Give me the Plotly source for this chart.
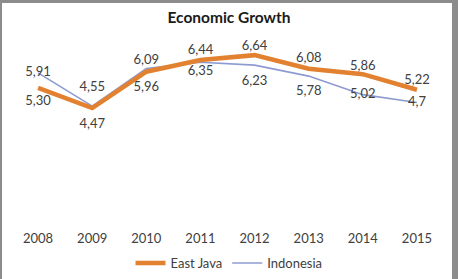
import plotly.graph_objects as go

years = ["2008", "2009", "2010", "2011", "2012", "2013", "2014", "2015"]
east_java = [5.30, 4.47, 5.96, 6.44, 6.64, 6.08, 5.86, 5.22]
indonesia = [5.91, 4.55, 6.09, 6.35, 6.23, 5.78, 5.02, 4.70]
east_java_labels = ["5,30", "4,47", "5,96", "6,44", "6,64", "6,08", "5,86", "5,22"]
indonesia_labels = ["5,91", "4,55", "6,09", "6,35", "6,23", "5,78", "5,02", "4,7"]

# label placement (style)
ej_pos = ["bottom center", "bottom center", "bottom center", "top center",
          "top center", "top center", "top center", "top center"]
id_pos = ["middle center", "top center", "top center", "bottom center",
          "bottom center", "bottom center", "middle center", "middle center"]
# invisible marker sizes used only to push labels away from the line
ej_pad = [10, 14, 14, 3, 1.5, 4.5, 0.5, 3]
id_pad = [0.5, 17, 0.5, 3, 14, 13, 0.5, 0.5]

FONT = "Lato, Carlito, Calibri, sans-serif"
TXT = "#404040"

fig = go.Figure()
fig.add_trace(go.Scatter(
    x=years, y=indonesia, name="Indonesia", mode="lines+markers+text",
    line=dict(color="#8e9bd0", width=1.6),
    marker=dict(size=id_pad, color="rgba(0,0,0,0)", line=dict(width=0)),
    text=indonesia_labels, textposition=id_pos,
    textfont=dict(family=FONT, size=13, color=TXT),
))
fig.add_trace(go.Scatter(
    x=years, y=east_java, name="East Java", mode="lines+markers+text",
    line=dict(color="#e2812f", width=4.5),
    marker=dict(size=ej_pad, color="rgba(0,0,0,0)", line=dict(width=0)),
    text=east_java_labels, textposition=ej_pos,
    textfont=dict(family=FONT, size=13, color=TXT),
))

# plot area: x 11..444, y 22..217 (px)
L, R, T, B = 11, 14, 22, 62
W, H = 458, 279
pw, ph = W - L - R, H - T - B

def px_x(x):
    return (x - L) / pw

def px_y(y):
    return (H - B - y) / ph

fig.update_layout(
    width=W, height=H,
    margin=dict(l=L, r=R, t=T, b=B, autoexpand=False),
    paper_bgcolor="#8c8c8c",
    plot_bgcolor="rgba(0,0,0,0)",
    font=dict(family=FONT, size=13, color=TXT),
    title=dict(text="<b>Economic Growth</b>", x=0.5, xanchor="center",
               y=1 - 18 / H, yanchor="middle", yref="container",
               font=dict(family=FONT, size=15.5, color="#1a1a1a")),
    xaxis=dict(type="category", range=[-0.5, 7.5], showgrid=False,
               showline=False, zeroline=False, ticks="",
               ticklabelstandoff=12, automargin=False,
               tickfont=dict(family=FONT, size=13, color=TXT)),
    yaxis=dict(range=[0, 8], visible=False, showgrid=False),
    showlegend=True,
    legend=dict(orientation="h", x=0.5, xanchor="center", xref="container",
                y=1 - 263 / H, yanchor="middle", yref="container",
                traceorder="reversed",
                font=dict(family=FONT, size=13, color=TXT),
                bgcolor="rgba(0,0,0,0)", itemwidth=30),
    shapes=[dict(type="rect", xref="paper", yref="paper",
                 x0=px_x(2), x1=px_x(452), y0=px_y(W), y1=px_y(3),
                 fillcolor="white", line=dict(width=0), layer="below")],
)

fig.write_html("out.html")
